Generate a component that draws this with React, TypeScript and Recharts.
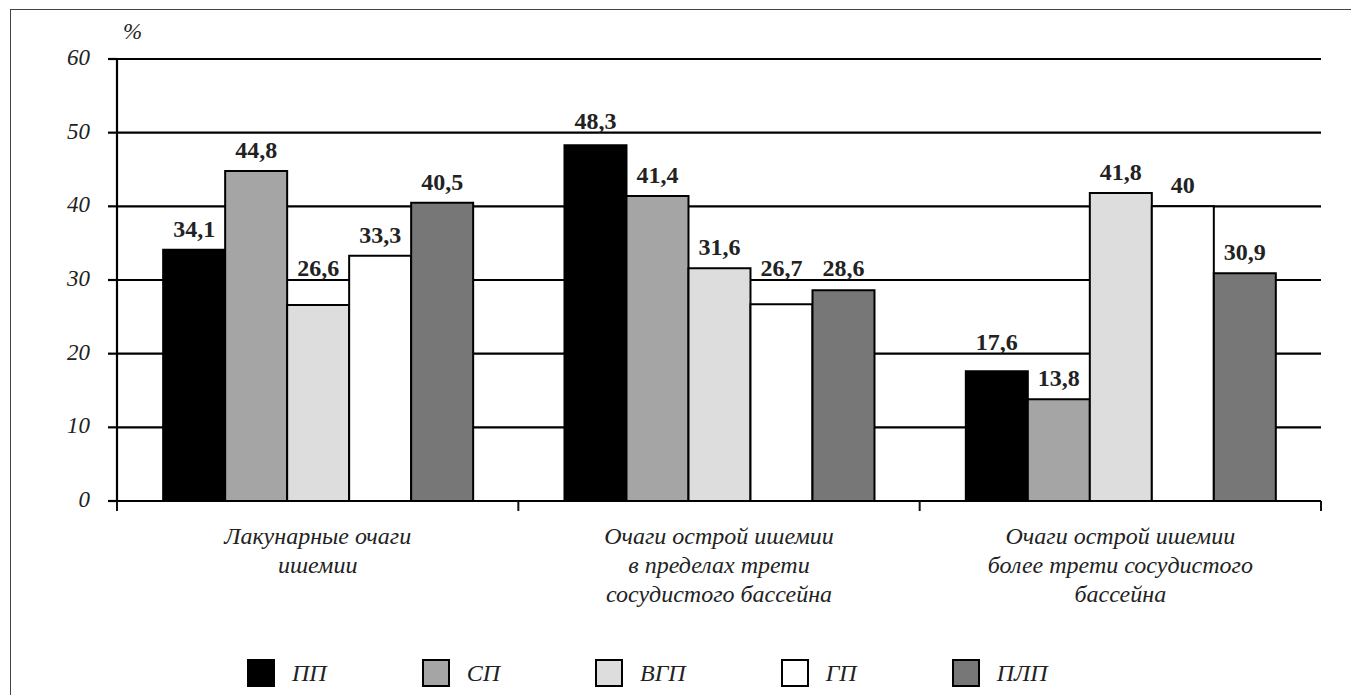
import { BarChart, Bar, XAxis, YAxis, CartesianGrid, LabelList } from 'recharts'

const categories = [
  'Лакунарные очаги ишемии',
  'Очаги острой ишемии в пределах трети сосудистого бассейна',
  'Очаги острой ишемии более трети сосудистого бассейна',
]
// how each category label is broken into lines under the axis
const categoryLines = [
  ['Лакунарные очаги', 'ишемии'],
  ['Очаги острой ишемии', 'в пределах трети', 'сосудистого бассейна'],
  ['Очаги острой ишемии', 'более трети сосудистого', 'бассейна'],
]
const seriesNames = ['ПП', 'СП', 'ВГП', 'ГП', 'ПЛП']
const pp = [34.1, 48.3, 17.6]
const sp = [44.8, 41.4, 13.8]
const vgp = [26.6, 31.6, 41.8]
const gp = [33.3, 26.7, 40]
const plp = [40.5, 28.6, 30.9]
const yTicks = [0, 10, 20, 30, 40, 50, 60]

const seriesKeys = ['pp', 'sp', 'vgp', 'gp', 'plp']
const COLORS = ['#000000', '#a5a5a5', '#dddddd', '#ffffff', '#777777']
const FONT = '"Liberation Serif", "Times New Roman", serif'

const CHART_W = 1340
const CHART_H = 684
const MARGIN = { top: 49, right: 30, left: 0, bottom: 0 }
const X_AXIS_H = 193
const Y_MAX = 60
const TICK_STEP = 10
// pixels per unit on the value axis
const PPU = (CHART_H - MARGIN.top - MARGIN.bottom - X_AXIS_H) / Y_MAX

const data = categories.map((name, i) => ({
  name,
  pp: pp[i],
  sp: sp[i],
  vgp: vgp[i],
  gp: gp[i],
  plp: plp[i],
}))

const fmt = (v: any) => String(v).replace('.', ',')

function CategoryTick(props: any) {
  const { x, y, payload, index, visibleTicksCount } = props
  const half = payload?.offset ?? 0
  const lines = categoryLines[index] ?? [String(payload.value)]
  return (
    <g>
      <line x1={x - half} y1={y} x2={x - half} y2={y + 10} stroke="#111" strokeWidth={2} />
      {index === visibleTicksCount - 1 && (
        <line x1={x + half} y1={y} x2={x + half} y2={y + 10} stroke="#111" strokeWidth={2} />
      )}
      <text
        x={x}
        y={y + 43}
        textAnchor="middle"
        fontFamily={FONT}
        fontStyle="italic"
        fontSize={24}
        fill="#222"
      >
        {lines.map((l, i) => (
          <tspan key={i} x={x} dy={i === 0 ? 0 : 29}>
            {l}
          </tspan>
        ))}
      </text>
    </g>
  )
}

// value label above a bar; lifted over a gridline when it would sit on it
function ValueLabel(props: any) {
  const vb = props.viewBox ?? props
  const x = Number(vb.x)
  const y = Number(vb.y)
  const width = Number(vb.width)
  const value = Number(props.value)
  if (!value) return null
  const nextTick = Math.ceil(value / TICK_STEP) * TICK_STEP
  const gridY = y - (nextTick - value) * PPU
  let bottom = y - 13
  if (gridY > bottom - 20 && gridY < bottom + 5) bottom = gridY - 4
  return (
    <text
      x={x + width / 2}
      y={bottom}
      textAnchor="middle"
      fontFamily={FONT}
      fontWeight="bold"
      fontSize={24}
      fill="#222"
    >
      {fmt(props.value)}
    </text>
  )
}

export default function App() {
  return (
    <div
      style={{
        position: 'relative',
        marginLeft: 2,
        marginTop: 1,
        width: 1348,
        height: 685,
        borderLeft: '1.5px solid #444',
        borderTop: '1.5px solid #444',
        background: '#fff',
        overflow: 'hidden',
      }}
    >
      <div
        style={{
          position: 'absolute',
          left: 112,
          top: 9,
          fontFamily: FONT,
          fontStyle: 'italic',
          fontSize: 23,
          color: '#222',
        }}
      >
        %
      </div>
      <div style={{ position: 'absolute', left: 0, top: 0 }}>
        <BarChart
          width={CHART_W}
          height={CHART_H}
          data={data}
          margin={MARGIN}
          barCategoryGap="11.5%"
          barGap={0}
        >
          <CartesianGrid vertical={false} stroke="#000" strokeWidth={2.2} />
          <XAxis
            dataKey="name"
            height={X_AXIS_H}
            tickSize={0}
            tickMargin={0}
            tickLine={false}
            axisLine={{ stroke: '#000', strokeWidth: 2.2 }}
            tick={<CategoryTick />}
            interval={0}
          />
          <YAxis
            width={106}
            domain={[0, Y_MAX]}
            ticks={yTicks}
            interval={0}
            tickSize={9}
            tickMargin={18}
            tickLine={{ stroke: '#000', strokeWidth: 2.2 }}
            axisLine={{ stroke: '#000', strokeWidth: 2.2 }}
            tick={{ fontFamily: FONT, fontStyle: 'italic', fontSize: 23, fill: '#222', dy: -2 }}
          />
          {seriesKeys.map((k, i) => (
            <Bar
              key={k}
              dataKey={k}
              name={seriesNames[i]}
              fill={COLORS[i]}
              stroke="#000"
              strokeWidth={2}
              isAnimationActive={false}
            >
              <LabelList dataKey={k} content={<ValueLabel />} />
            </Bar>
          ))}
        </BarChart>
      </div>
      <div
        style={{
          position: 'absolute',
          left: 236,
          top: 649,
          display: 'flex',
          alignItems: 'center',
          gap: 95,
          fontFamily: FONT,
          fontStyle: 'italic',
          fontSize: 24,
          color: '#222',
        }}
      >
        {seriesNames.map((n, i) => (
          <div key={n} style={{ display: 'flex', alignItems: 'center' }}>
            <div
              style={{
                width: i === 0 ? 28 : 24,
                height: i === 0 ? 28 : 24,
                background: COLORS[i],
                border: i === 0 ? 'none' : '2px solid #000',
                marginRight: 17,
              }}
            />
            <span>{n}</span>
          </div>
        ))}
      </div>
    </div>
  )
}
